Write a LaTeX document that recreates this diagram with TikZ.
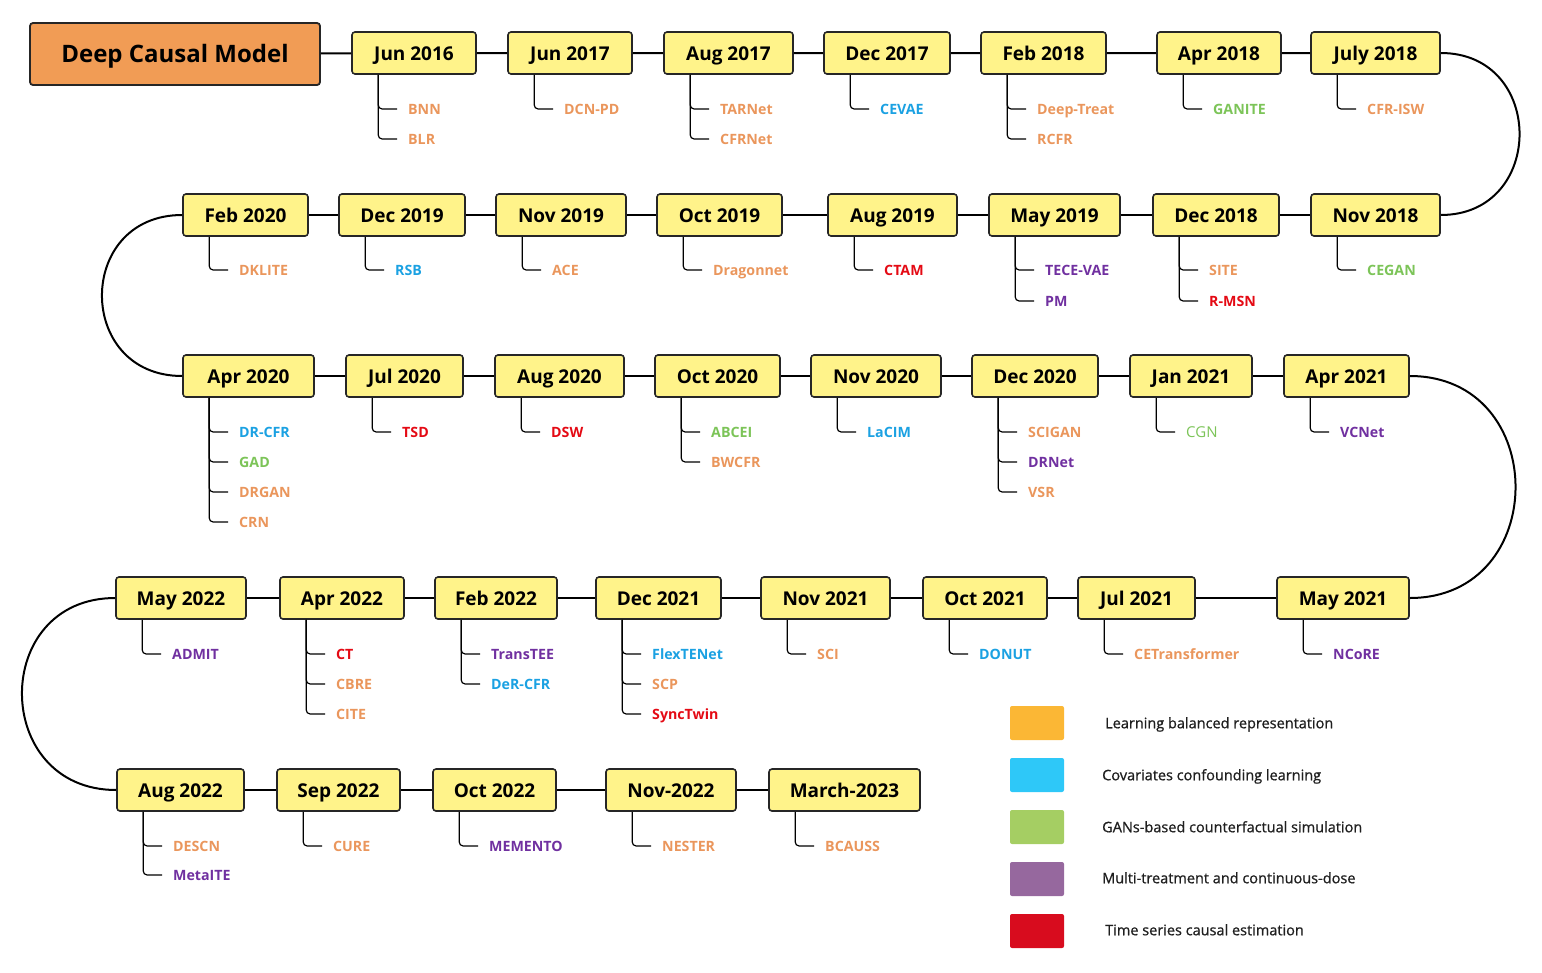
\documentclass[tikz,border=0pt]{standalone}
\usepackage{fontspec}
\setmainfont{Open Sans}
\newfontfamily\legendfont{Open Sans}[FakeBold=0.9]
\definecolor{boxyellow}{RGB}{255,243,138}
\definecolor{titleorange}{RGB}{241,156,85}
\definecolor{cOrange}{RGB}{234,150,92}
\definecolor{cBlue}{RGB}{27,161,226}
\definecolor{cGreen}{RGB}{124,196,88}
\definecolor{cPurple}{RGB}{112,48,160}
\definecolor{cRed}{RGB}{228,10,20}
\definecolor{lgOrange}{RGB}{251,183,53}
\definecolor{lgBlue}{RGB}{46,200,248}
\definecolor{lgGreen}{RGB}{165,206,99}
\definecolor{lgPurple}{RGB}{150,104,158}
\definecolor{lgRed}{RGB}{216,12,30}
\tikzset{
    datebox/.style={draw=black!85, line width=1.6pt, fill=boxyellow, rounded corners=3pt,
        minimum height=42pt, minimum width=#1, inner sep=0pt, text height=14pt, text depth=0pt,
        font=\fontsize{19}{22}\selectfont\bfseries},
    titlebox/.style={draw=black!85, line width=1.8pt, fill=titleorange, rounded corners=3pt,
        minimum height=62pt, minimum width=290pt, text height=17pt, text depth=0pt,
        font=\fontsize{24}{28}\selectfont\bfseries},
    item/.style={anchor=west, inner sep=0pt, text height=10.5pt, text depth=0pt,
        font=\fontsize{14.2}{17}\selectfont\bfseries},
    branch/.style={draw=black, line width=1.2pt, rounded corners=4pt},
    link/.style={draw=black, line width=2pt},
    legendsq/.style={rounded corners=2pt, minimum width=54pt, minimum height=34pt, inner sep=0pt},
    legendtxt/.style={anchor=west, inner sep=0pt, text=black!88, text height=10.5pt, text depth=0pt,
        font=\fontsize{14.5}{17}\selectfont\legendfont}
}
\begin{document}
\begin{tikzpicture}[x=1pt, y=-1pt]
    \useasboundingbox (0,0) rectangle (1542,972);
    % Row 1
    \node[titlebox] (title) at (175,54) {Deep Causal Model};
    \node[datebox=124] (jun16) at (414,53) {Jun 2016};
    \node[datebox=124] (jun17) at (570,53) {Jun 2017};
    \node[datebox=129] (aug17) at (728.5,53) {Aug 2017};
    \node[datebox=126] (dec17) at (887,53) {Dec 2017};
    \node[datebox=125] (feb18) at (1043.5,53) {Feb 2018};
    \node[datebox=124] (apr18) at (1219,53) {Apr 2018};
    \node[datebox=129] (jul18) at (1375.5,53) {July 2018};
    \draw[link] (title) -- (jun16) -- (jun17) -- (aug17) -- (dec17) -- (feb18) -- (apr18) -- (jul18);
    \node[item, text=cOrange] (bnn) at (408,109) {BNN};
    \node[item, text=cOrange] (blr) at (408,139) {BLR};
    \node[item, text=cOrange] (dcnpd) at (564,109) {DCN-PD};
    \node[item, text=cOrange] (tarnet) at (720,109) {TARNet};
    \node[item, text=cOrange] (cfrnet) at (720,139) {CFRNet};
    \node[item, text=cBlue] (cevae) at (880,109) {CEVAE};
    \node[item, text=cOrange] (deeptreat) at (1037,109) {Deep-Treat};
    \node[item, text=cOrange] (rcfr) at (1037,139) {RCFR};
    \node[item, text=cGreen] (ganite) at (1213,109) {GANITE};
    \node[item, text=cOrange] (cfrisw) at (1367,109) {CFR-ISW};
    \draw[branch] ([xshift=27pt]jun16.south west) |- ([xshift=-11pt]bnn.west);
    \draw[branch] ([xshift=27pt]jun16.south west) |- ([xshift=-11pt]blr.west);
    \draw[branch] ([xshift=27pt]jun17.south west) |- ([xshift=-11pt]dcnpd.west);
    \draw[branch] ([xshift=27pt]aug17.south west) |- ([xshift=-11pt]tarnet.west);
    \draw[branch] ([xshift=27pt]aug17.south west) |- ([xshift=-11pt]cfrnet.west);
    \draw[branch] ([xshift=27pt]dec17.south west) |- ([xshift=-11pt]cevae.west);
    \draw[branch] ([xshift=27pt]feb18.south west) |- ([xshift=-11pt]deeptreat.west);
    \draw[branch] ([xshift=27pt]feb18.south west) |- ([xshift=-11pt]rcfr.west);
    \draw[branch] ([xshift=27pt]apr18.south west) |- ([xshift=-11pt]ganite.west);
    \draw[branch] ([xshift=27pt]jul18.south west) |- ([xshift=-11pt]cfrisw.west);
    % Row 2
    \node[datebox=125] (feb20) at (245.5,215) {Feb 2020};
    \node[datebox=126] (dec19) at (402,215) {Dec 2019};
    \node[datebox=130] (nov19) at (561,215) {Nov 2019};
    \node[datebox=125] (oct19) at (719.5,215) {Oct 2019};
    \node[datebox=129] (aug19) at (892.5,215) {Aug 2019};
    \node[datebox=131] (may19) at (1054.5,215) {May 2019};
    \node[datebox=126] (dec18) at (1216,215) {Dec 2018};
    \node[datebox=129] (nov18) at (1375.5,215) {Nov 2018};
    \draw[link] (feb20) -- (dec19) -- (nov19) -- (oct19) -- (aug19) -- (may19) -- (dec18) -- (nov18);
    \draw[link] (jul18.east) .. controls +(105,0) and +(105,0) .. (nov18.east);
    \node[item, text=cOrange] (dklite) at (239,270) {DKLITE};
    \node[item, text=cBlue] (rsb) at (395,270) {RSB};
    \node[item, text=cOrange] (ace) at (552,270) {ACE};
    \node[item, text=cOrange] (dragonnet) at (713,270) {Dragonnet};
    \node[item, text=cRed] (ctam) at (884,270) {CTAM};
    \node[item, text=cPurple] (tecevae) at (1045,270) {TECE-VAE};
    \node[item, text=cPurple] (pm) at (1045,301) {PM};
    \node[item, text=cOrange] (site) at (1209,270) {SITE};
    \node[item, text=cRed] (rmsn) at (1209,301) {R-MSN};
    \node[item, text=cGreen] (cegan) at (1367,270) {CEGAN};
    \draw[branch] ([xshift=27pt]feb20.south west) |- ([xshift=-11pt]dklite.west);
    \draw[branch] ([xshift=27pt]dec19.south west) |- ([xshift=-11pt]rsb.west);
    \draw[branch] ([xshift=27pt]nov19.south west) |- ([xshift=-11pt]ace.west);
    \draw[branch] ([xshift=27pt]oct19.south west) |- ([xshift=-11pt]dragonnet.west);
    \draw[branch] ([xshift=27pt]aug19.south west) |- ([xshift=-11pt]ctam.west);
    \draw[branch] ([xshift=27pt]may19.south west) |- ([xshift=-11pt]tecevae.west);
    \draw[branch] ([xshift=27pt]may19.south west) |- ([xshift=-11pt]pm.west);
    \draw[branch] ([xshift=27pt]dec18.south west) |- ([xshift=-11pt]site.west);
    \draw[branch] ([xshift=27pt]dec18.south west) |- ([xshift=-11pt]rmsn.west);
    \draw[branch] ([xshift=27pt]nov18.south west) |- ([xshift=-11pt]cegan.west);
    % Row 3
    \node[datebox=131] (apr20) at (248.5,376) {Apr 2020};
    \node[datebox=117] (jul20) at (404.5,376) {Jul 2020};
    \node[datebox=129] (aug20) at (559.5,376) {Aug 2020};
    \node[datebox=125] (oct20) at (717.5,376) {Oct 2020};
    \node[datebox=130] (nov20) at (876,376) {Nov 2020};
    \node[datebox=126] (dec20) at (1035,376) {Dec 2020};
    \node[datebox=122] (jan21) at (1191,376) {Jan 2021};
    \node[datebox=125] (apr21) at (1346.5,376) {Apr 2021};
    \draw[link] (apr20) -- (jul20) -- (aug20) -- (oct20) -- (nov20) -- (dec20) -- (jan21) -- (apr21);
    \draw[link] (feb20.west) .. controls +(-107,0) and +(-107,0) .. (apr20.west);
    \node[item, text=cBlue] (drcfr) at (239,432) {DR-CFR};
    \node[item, text=cGreen] (gad) at (239,462) {GAD};
    \node[item, text=cOrange] (drgan) at (239,492) {DRGAN};
    \node[item, text=cOrange] (crn) at (239,522) {CRN};
    \node[item, text=cRed] (tsd) at (402,432) {TSD};
    \node[item, text=cRed] (dsw) at (551,432) {DSW};
    \node[item, text=cGreen] (abcei) at (711,432) {ABCEI};
    \node[item, text=cOrange] (bwcfr) at (711,462) {BWCFR};
    \node[item, text=cBlue] (lacim) at (867,432) {LaCIM};
    \node[item, text=cOrange] (scigan) at (1028,432) {SCIGAN};
    \node[item, text=cPurple] (drnet) at (1028,462) {DRNet};
    \node[item, text=cOrange] (vsr) at (1028,492) {VSR};
    \node[item, text=cGreen, font=\fontsize{15}{18}\selectfont\rmfamily] (cgn) at (1186,432) {CGN};
    \node[item, text=cPurple] (vcnet) at (1340,432) {VCNet};
    \draw[branch] ([xshift=27pt]apr20.south west) |- ([xshift=-11pt]drcfr.west);
    \draw[branch] ([xshift=27pt]apr20.south west) |- ([xshift=-11pt]gad.west);
    \draw[branch] ([xshift=27pt]apr20.south west) |- ([xshift=-11pt]drgan.west);
    \draw[branch] ([xshift=27pt]apr20.south west) |- ([xshift=-11pt]crn.west);
    \draw[branch] ([xshift=27pt]jul20.south west) |- ([xshift=-11pt]tsd.west);
    \draw[branch] ([xshift=27pt]aug20.south west) |- ([xshift=-11pt]dsw.west);
    \draw[branch] ([xshift=27pt]oct20.south west) |- ([xshift=-11pt]abcei.west);
    \draw[branch] ([xshift=27pt]oct20.south west) |- ([xshift=-11pt]bwcfr.west);
    \draw[branch] ([xshift=27pt]nov20.south west) |- ([xshift=-11pt]lacim.west);
    \draw[branch] ([xshift=27pt]dec20.south west) |- ([xshift=-11pt]scigan.west);
    \draw[branch] ([xshift=27pt]dec20.south west) |- ([xshift=-11pt]drnet.west);
    \draw[branch] ([xshift=27pt]dec20.south west) |- ([xshift=-11pt]vsr.west);
    \draw[branch] ([xshift=27pt]jan21.south west) |- ([xshift=-11pt]cgn.west);
    \draw[branch] ([xshift=27pt]apr21.south west) |- ([xshift=-11pt]vcnet.west);
    % Row 4
    \node[datebox=130] (may22) at (181,598) {May 2022};
    \node[datebox=124] (apr22) at (342,598) {Apr 2022};
    \node[datebox=122] (feb22) at (496,598) {Feb 2022};
    \node[datebox=125] (dec21) at (658.5,598) {Dec 2021};
    \node[datebox=129] (nov21) at (825.5,598) {Nov 2021};
    \node[datebox=124] (oct21) at (985,598) {Oct 2021};
    \node[datebox=117] (jul21) at (1136.5,598) {Jul 2021};
    \node[datebox=132] (may21) at (1343,598) {May 2021};
    \draw[link] (may22) -- (apr22) -- (feb22) -- (dec21) -- (nov21) -- (oct21) -- (jul21) -- (may21);
    \draw[link] (apr21.east) .. controls +(141,0) and +(141,0) .. (may21.east);
    \node[item, text=cPurple] (admit) at (172,654) {ADMIT};
    \node[item, text=cRed] (ct) at (336,654) {CT};
    \node[item, text=cOrange] (cbre) at (336,684) {CBRE};
    \node[item, text=cOrange] (cite) at (336,714) {CITE};
    \node[item, text=cPurple] (transtee) at (491,654) {TransTEE};
    \node[item, text=cBlue] (dercfr) at (491,684) {DeR-CFR};
    \node[item, text=cBlue] (flextenet) at (652,654) {FlexTENet};
    \node[item, text=cOrange] (scp) at (652,684) {SCP};
    \node[item, text=cRed] (synctwin) at (652,714) {SyncTwin};
    \node[item, text=cOrange] (sci) at (817,654) {SCI};
    \node[item, text=cBlue] (donut) at (979,654) {DONUT};
    \node[item, text=cOrange] (cetrans) at (1134,654) {CETransformer};
    \node[item, text=cPurple] (ncore) at (1333,654) {NCoRE};
    \draw[branch] ([xshift=27pt]may22.south west) |- ([xshift=-11pt]admit.west);
    \draw[branch] ([xshift=27pt]apr22.south west) |- ([xshift=-11pt]ct.west);
    \draw[branch] ([xshift=27pt]apr22.south west) |- ([xshift=-11pt]cbre.west);
    \draw[branch] ([xshift=27pt]apr22.south west) |- ([xshift=-11pt]cite.west);
    \draw[branch] ([xshift=27pt]feb22.south west) |- ([xshift=-11pt]transtee.west);
    \draw[branch] ([xshift=27pt]feb22.south west) |- ([xshift=-11pt]dercfr.west);
    \draw[branch] ([xshift=27pt]dec21.south west) |- ([xshift=-11pt]flextenet.west);
    \draw[branch] ([xshift=27pt]dec21.south west) |- ([xshift=-11pt]scp.west);
    \draw[branch] ([xshift=27pt]dec21.south west) |- ([xshift=-11pt]synctwin.west);
    \draw[branch] ([xshift=27pt]nov21.south west) |- ([xshift=-11pt]sci.west);
    \draw[branch] ([xshift=27pt]oct21.south west) |- ([xshift=-11pt]donut.west);
    \draw[branch] ([xshift=27pt]jul21.south west) |- ([xshift=-11pt]cetrans.west);
    \draw[branch] ([xshift=27pt]may21.south west) |- ([xshift=-11pt]ncore.west);
    % Row 5
    \node[datebox=127] (aug22) at (180.5,790) {Aug 2022};
    \node[datebox=123] (sep22) at (338.5,790) {Sep 2022};
    \node[datebox=123] (oct22) at (494.5,790) {Oct 2022};
    \node[datebox=130] (nov22) at (671,790) {Nov-2022};
    \node[datebox=151] (mar23) at (844.5,790) {March-2023};
    \draw[link] (aug22) -- (sep22) -- (oct22) -- (nov22) -- (mar23);
    \draw[link] (may22.west) .. controls +(-125,0) and +(-125,0) .. (aug22.west);
    \node[item, text=cOrange] (descn) at (173,846) {DESCN};
    \node[item, text=cPurple] (metaite) at (173,875) {MetaITE};
    \node[item, text=cOrange] (cure) at (333,846) {CURE};
    \node[item, text=cPurple] (memento) at (489,846) {MEMENTO};
    \node[item, text=cOrange] (nester) at (662,846) {NESTER};
    \node[item, text=cOrange] (bcauss) at (825,846) {BCAUSS};
    \draw[branch] ([xshift=27pt]aug22.south west) |- ([xshift=-11pt]descn.west);
    \draw[branch] ([xshift=27pt]aug22.south west) |- ([xshift=-11pt]metaite.west);
    \draw[branch] ([xshift=27pt]sep22.south west) |- ([xshift=-11pt]cure.west);
    \draw[branch] ([xshift=27pt]oct22.south west) |- ([xshift=-11pt]memento.west);
    \draw[branch] ([xshift=27pt]nov22.south west) |- ([xshift=-11pt]nester.west);
    \draw[branch] ([xshift=27pt]mar23.south west) |- ([xshift=-11pt]bcauss.west);
    % Legend
    \node[legendsq, fill=lgOrange] (lg1) at (1037,723) {};
    \node[legendsq, fill=lgBlue] (lg2) at (1037,775) {};
    \node[legendsq, fill=lgGreen] (lg3) at (1037,827) {};
    \node[legendsq, fill=lgPurple] (lg4) at (1037,879) {};
    \node[legendsq, fill=lgRed] (lg5) at (1037,931) {};
    \node[legendtxt] (lt1) at (1105,723) {Learning balanced representation};
    \node[legendtxt] (lt2) at (1102,775) {Covariates confounding learning};
    \node[legendtxt] (lt3) at (1102,827) {GANs-based counterfactual simulation};
    \node[legendtxt] (lt4) at (1102,878) {Multi-treatment and continuous-dose};
    \node[legendtxt] (lt5) at (1105,930) {Time series causal estimation};
\end{tikzpicture}
\end{document}
